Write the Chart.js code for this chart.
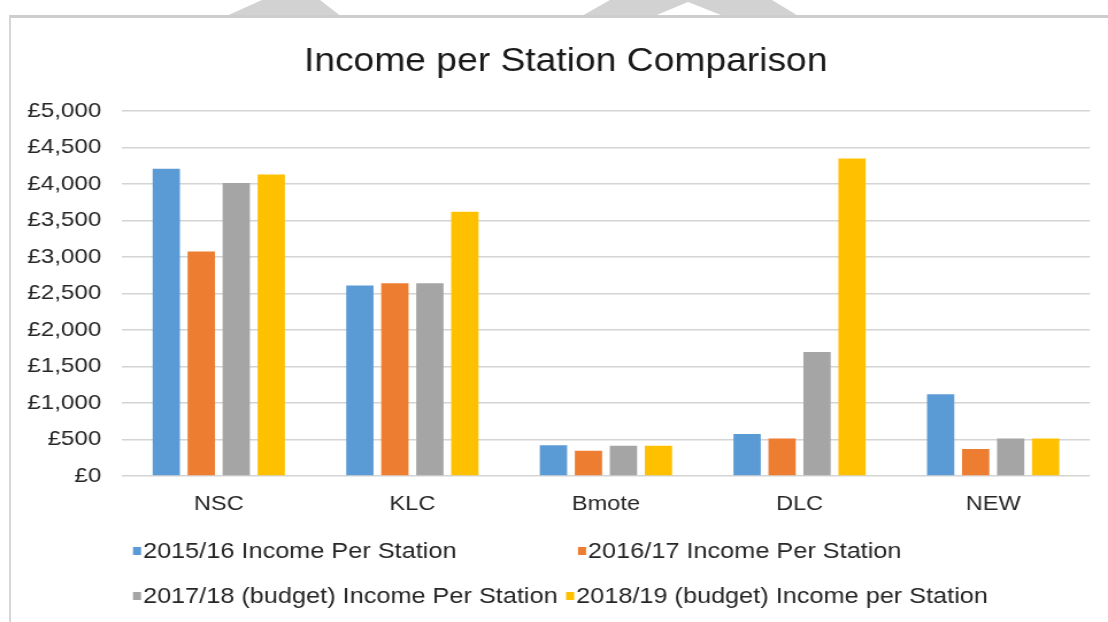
<!DOCTYPE html>
<html>
<head>
<meta charset="utf-8">
<title>Income per Station Comparison</title>
<script src="https://cdn.jsdelivr.net/npm/chart.js@4/dist/chart.umd.min.js"></script>
<style>
    html, body { margin: 0; padding: 0; background: #ffffff; }
    #wrap { position: relative; width: 1108px; height: 622px; overflow: hidden; background: #ffffff; }
    /* faint watermark letters peeking above the frame */
    .mark { position: absolute; left: 0; top: 0; width: 1108px; height: 20px; background: #d2d2d2; }
    #markA { clip-path: polygon(224px 17px, 342px 17px, 320px 0px, 262px 0px); }
    #markB { clip-path: polygon(580px 17px, 652px 17px, 688px 2px, 726px 17px, 800px 17px, 772px 0px, 610px 0px); }
    #frame {
        position: absolute; left: 9px; top: 15px; width: 1100px; height: 620px;
        border-top: 3px solid #cdcdcd; border-left: 2px solid #d6d6d6;
        background: #ffffff;
    }
    #incomeChart { position: absolute; left: 0; top: 0; width: 1108px; height: 622px; }
</style>
</head>
<body>
<div id="wrap">
    <div class="mark" id="markA"></div>
    <div class="mark" id="markB"></div>
    <div id="frame"></div>
    <!-- drawn at 964 px wide, shown at 1108 px -->
    <canvas id="incomeChart" width="964" height="622" style="width:1108px;height:622px"></canvas>
</div>

<script>
// Stations and yearly income per station (GBP)
const stations = ['NSC', 'KLC', 'Bmote', 'DLC', 'NEW'];
const seriesLabels = [
    '2015/16 Income Per Station',
    '2016/17 Income Per Station',
    '2017/18 (budget) Income Per Station',
    '2018/19 (budget) Income per Station'
];
const income2015 = [4210, 2610, 420, 575, 1120];
const income2016 = [3075, 2640, 345, 515, 370];
const income2017 = [4015, 2640, 415, 1700, 515];
const income2018 = [4130, 3620, 415, 4350, 515];
const yTicks = [0, 500, 1000, 1500, 2000, 2500, 3000, 3500, 4000, 4500, 5000];

const seriesColors = ['#5b9bd5', '#ed7d31', '#a5a5a5', '#ffc000'];
const fontFamily = '"Liberation Sans", Arial, Helvetica, sans-serif';
const textColor = '#262626';

const formatPounds = v => '£' + Number(v).toLocaleString('en-GB');

/**
 * Two-row legend under the plot, office-style
 */
const gridLegend = {
    id: 'gridLegend',
    afterDraw(chart, args, opts) {
        const ctx = chart.ctx;
        ctx.save();
        ctx.font = opts.size + 'px ' + fontFamily;
        ctx.textBaseline = 'middle';
        ctx.textAlign = 'left';
        chart.data.datasets.forEach((ds, i) => {
            const x = opts.xs[i];
            const y = opts.ys[i];
            ctx.fillStyle = ds.backgroundColor;
            ctx.fillRect(x, y - 4, 7, 8);
            ctx.fillStyle = opts.color;
            ctx.fillText(ds.label, x + 8.7, y + 1);
        });
        ctx.restore();
    }
};

// centre the title over the whole frame rather than the padded box
const titleShift = {
    id: 'titleShift',
    afterLayout(chart, args, opts) {
        const block = chart.titleBlock;
        if (block) {
            block.left += opts.dx;
            block.right += opts.dx;
        }
    }
};

const allSeries = [income2015, income2016, income2017, income2018];

const chart = new Chart(document.getElementById('incomeChart'), {
    type: 'bar',
    data: {
        labels: stations,
        datasets: allSeries.map((values, i) => ({
            label: seriesLabels[i],
            data: values,
            backgroundColor: seriesColors[i],
            borderWidth: 0,
            categoryPercentage: 0.723,
            barPercentage: 0.78
        }))
    },
    options: {
        responsive: false,
        animation: false,
        layout: {
            padding: { left: 18, right: 15.7, top: 0, bottom: 96 }
        },
        plugins: {
            legend: { display: false },
            tooltip: { enabled: false },
            title: {
                display: true,
                text: 'Income per Station Comparison',
                color: '#1a1a1a',
                font: { family: fontFamily, size: 32.4, weight: 'normal' },
                padding: { top: 43, bottom: 29.1 }
            },
            titleShift: { dx: 9 },
            gridLegend: {
                size: 22,
                color: textColor,
                xs: [115.7, 502.9, 115.7, 492.5],
                ys: [551, 551, 596, 596]
            }
        },
        scales: {
            x: {
                grid: { display: false, drawTicks: false },
                border: { display: false },
                ticks: {
                    color: textColor,
                    font: { family: fontFamily, size: 20.5 },
                    padding: 16.5
                },
                afterFit: scale => { scale.height = 50; }
            },
            y: {
                min: 0,
                max: 5000,
                grid: { color: '#d4d4d4', lineWidth: 1.5, drawTicks: false },
                border: { display: false },
                afterBuildTicks: scale => {
                    scale.ticks = yTicks.map(v => ({ value: v }));
                },
                ticks: {
                    color: textColor,
                    font: { family: fontFamily, size: 21 },
                    padding: 18,
                    callback: v => formatPounds(v)
                },
                afterFit: scale => { scale.width = 88.1; }
            }
        }
    },
    plugins: [gridLegend, titleShift]
});
</script>
</body>
</html>
